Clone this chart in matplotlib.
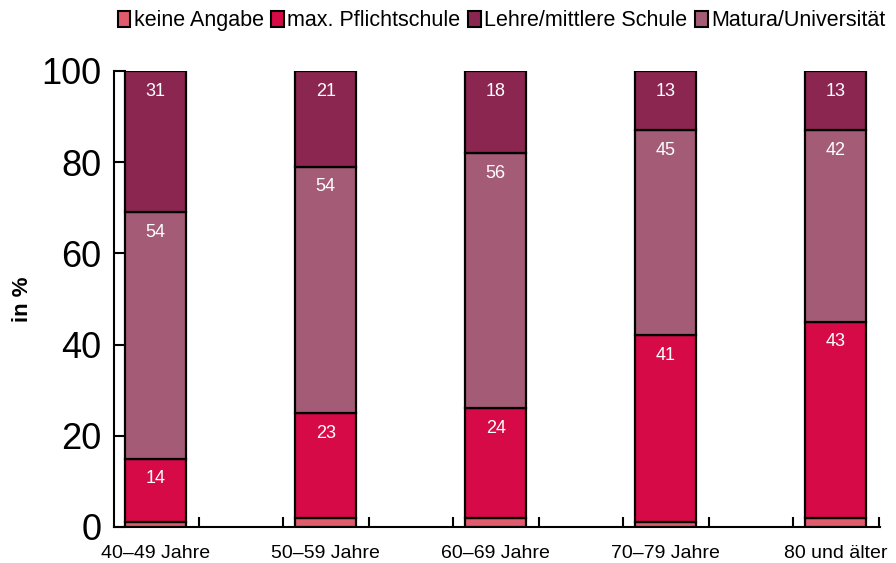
import matplotlib
matplotlib.use("Agg")
import matplotlib.pyplot as plt
import numpy as np
from matplotlib.patches import Patch

plt.rcParams['font.family'] = ['Liberation Sans', 'DejaVu Sans']

categories = ["40–49 Jahre", "50–59 Jahre", "60–69 Jahre", "70–79 Jahre", "80 und älter"]
keine_angabe = [1, 2, 2, 1, 2]
pflichtschule = [14, 23, 24, 41, 43]
matura = [54, 54, 56, 45, 42]
lehre = [31, 21, 18, 13, 13]
yticks = [0, 20, 40, 60, 80, 100]

c_keine = "#E05C6C"
c_pflicht = "#D50A47"
c_lehre = "#8B2651"
c_matura = "#A45C76"

fig = plt.figure(figsize=(8.96, 5.63), dpi=100)
ax = fig.add_axes([0.127, 0.064, 0.855, 0.810])

x = np.arange(len(categories))
w = 0.36
lw = 1.6
ax.bar(x, keine_angabe, w, color=c_keine, edgecolor="black", linewidth=lw, zorder=3)
b1 = np.array(keine_angabe)
ax.bar(x, pflichtschule, w, bottom=b1, color=c_pflicht, edgecolor="black", linewidth=lw, zorder=3)
b2 = b1 + np.array(pflichtschule)
ax.bar(x, matura, w, bottom=b2, color=c_matura, edgecolor="black", linewidth=lw, zorder=3)
b3 = b2 + np.array(matura)
ax.bar(x, lehre, w, bottom=b3, color=c_lehre, edgecolor="black", linewidth=lw, zorder=3)
b4 = b3 + np.array(lehre)

for vals, tops in [(pflichtschule, b2), (matura, b3), (lehre, b4)]:
    for xi, v, t in zip(x, vals, tops):
        ax.annotate(str(v), (xi, t), xytext=(0, -14.5), textcoords="offset points",
                    ha="center", va="center", color="white", fontsize=13, zorder=4)

ax.set_xlim(-0.247, 4.26)
ax.set_ylim(0, 100)
ax.set_yticks(yticks)
ax.set_yticklabels([str(v) for v in yticks], fontsize=26)
ax.set_xticks(x)
ax.set_xticklabels(categories, fontsize=14)
ax.tick_params(axis="x", length=0, pad=13)
ax.tick_params(axis="y", direction="in", length=8.5, width=1.5, pad=9)
minor = sorted([xi + s * 0.253 for xi in x for s in (-1, 1) if not (xi == 0 and s == -1)])
ax.set_xticks(minor, minor=True)
ax.tick_params(axis="x", which="minor", direction="in", length=7, width=1.5)

for s in ["top", "right"]:
    ax.spines[s].set_visible(False)
for s in ["left", "bottom"]:
    ax.spines[s].set_linewidth(1.5)

ax.set_ylabel("in %", fontsize=16, fontweight="bold", labelpad=6)

handles = [Patch(facecolor=c, edgecolor="black", linewidth=1.5) for c in (c_keine, c_pflicht, c_lehre, c_matura)]
labels = ["keine Angabe", "max. Pflichtschule", "Lehre/mittlere Schule", "Matura/Universität"]
fig.legend(handles, labels, loc="upper left", bbox_to_anchor=(0.112, 1.012), ncol=4, frameon=False,
           fontsize=15.5, handlelength=0.6, handleheight=0.75, handletextpad=0.15, columnspacing=0.35,
           borderpad=0.3)

fig.savefig("out.png", dpi=100)
